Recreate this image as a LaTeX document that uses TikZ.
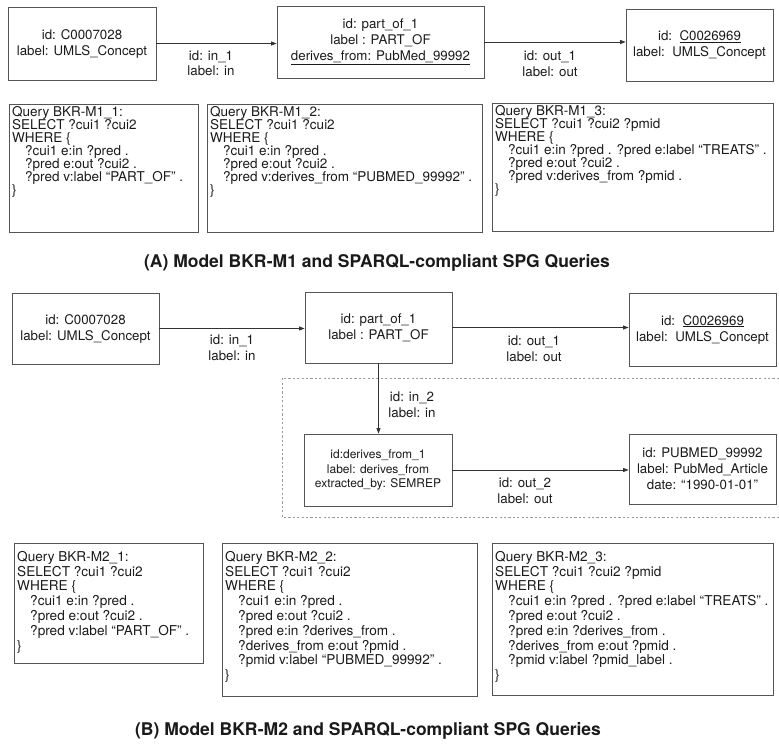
\documentclass[tikz,border=0pt]{standalone}
\usepackage{fontspec}
\setmainfont{TeX Gyre Heros}
\usetikzlibrary{arrows.meta}
\definecolor{bd}{HTML}{555555}
\definecolor{ar}{HTML}{333333}
\definecolor{dg}{HTML}{9A9A9A}
\definecolor{tx}{HTML}{1A1A1A}
\tikzset{
  ent/.style={draw=bd, line width=0.8pt, align=center, text=tx, inner sep=0pt,
    font=\fontsize{13.3}{16}\selectfont},
  entsm/.style={ent, font=\fontsize{12}{14.5}\selectfont},
  qbox/.style={draw=bd, line width=0.8pt, inner sep=0pt, anchor=north west},
  qtxtA/.style={align=left, text=tx, inner sep=0pt, anchor=north west,
    font=\fontsize{13.5}{13.1}\selectfont},
  qtxtB/.style={align=left, text=tx, inner sep=0pt, anchor=north west,
    font=\fontsize{13.6}{14.8}\selectfont},
  elab/.style={align=center, text=tx, inner sep=0pt, font=\fontsize{13.3}{15.5}\selectfont},
  arr/.style={draw=ar, line width=0.8pt, -{Triangle[length=5.5pt,width=4pt]}},
  ttl/.style={text=tx, inner sep=0pt, font=\fontsize{17.5}{20}\selectfont\bfseries},
}
\newcommand{\ind}{\hspace*{13pt}}
\begin{document}
\begin{tikzpicture}[x=1pt,y=-1pt]
\useasboundingbox (0,0) rectangle (779,747);
% ---------------- (A) ----------------
\node[ent, minimum width=148, minimum height=73] (a1) at (82,43.5) {id: C0007028\\label: UMLS\_Concept};
\node[ent, minimum width=207, minimum height=72] (a2) at (380.5,42) {id: part\_of\_1\\label : PART\_OF\\\underline{derives\_from: PubMed\_99992}};
\node[ent, minimum width=147, minimum height=72] (a3) at (699.5,45) {id:~~\underline{C0026969}\\label:~~UMLS\_Concept};
\draw[arr] (a1.east) -- (a1.east -| a2.west);
\draw[arr] (a2.east) -- (a2.east -| a3.west);
\node[elab] (la1) at (211,63) {id: in\_1\\label: in};
\node[elab] (la2) at (550,64) {id: out\_1\\label: out};

\node[qbox, minimum width=189, minimum height=128] (qa1) at (9,104) {};
\node[qtxtA] (qa1t) at ([shift={(3,2)}]qa1.north west) {Query BKR-M1\_1:\\SELECT ?cui1 ?cui2\\WHERE \{\\\ind ?cui1 e:in ?pred .\\\ind ?pred e:out ?cui2 .\\\ind ?pred v:label “PART\_OF” .\\\}};
\node[qbox, minimum width=275, minimum height=128] (qa2) at (207,104) {};
\node[qtxtA] (qa2t) at ([shift={(3,2)}]qa2.north west) {Query BKR-M1\_2:\\SELECT ?cui1 ?cui2\\WHERE \{\\\ind ?cui1 e:in ?pred .\\\ind ?pred e:out ?cui2 .\\\ind ?pred v:derives\_from “PUBMED\_99992” .\\\}};
\node[qbox, minimum width=281, minimum height=128] (qa3) at (492,103) {};
\node[qtxtA] (qa3t) at ([shift={(3,2)}]qa3.north west) {Query BKR-M1\_3:\\SELECT ?cui1 ?cui2 ?pmid\\WHERE \{\\\ind ?cui1 e:in ?pred . ?pred e:label “TREATS” .\\\ind ?pred e:out ?cui2 .\\\ind ?pred v:derives\_from ?pmid .\\\}};
\node[ttl] (ta) at (377,263) {(A) Model BKR-M1 and SPARQL-compliant SPG Queries};

% ---------------- (B) ----------------
\coordinate (d1) at (779,378);
\coordinate (d2) at (282,378);
\coordinate (d3) at (282,517);
\coordinate (d4) at (779,517);
\draw[dg, line width=0.7pt, dash pattern=on 2.2pt off 2.2pt] (d1) -- (d2) -- (d3) -- (d4);

\node[ent, minimum width=147, minimum height=71] (b1) at (85.5,328.5) {id: C0007028\\label: UMLS\_Concept};
\node[ent, minimum width=147, minimum height=71] (b2) at (378.5,327.5) {id: part\_of\_1\\label : PART\_OF};
\node[ent, minimum width=147, minimum height=73] (b3) at (702.5,329.5) {id:~~\underline{C0026969}\\label:~~UMLS\_Concept};
\node[entsm, minimum width=148, minimum height=72] (b4) at (378,470) {id:derives\_from\_1\\label: derives\_from\\extracted\_by: SEMREP};
\node[ent, minimum width=147, minimum height=70] (b5) at (702.5,469) {id: PUBMED\_99992\\label: PubMed\_Article\\date: “1990-01-01”};
\draw[arr] (b1.east) -- (b1.east -| b2.west);
\draw[arr] (b2.east) -- (b2.east -| b3.west);
\draw[arr] (b2.south) -- (b2.south |- b4.north);
\draw[arr] (b4.east) -- (b4.east -| b5.west);
\node[elab] (lb1) at (232,347.5) {id: in\_1\\label: in};
\node[elab] (lb2) at (534,348.5) {id: out\_1\\label: out};
\node[elab] (lb3) at (412,404.5) {id: in\_2\\label: in};
\node[elab] (lb4) at (525,490.5) {id: out\_2\\label: out};

\node[qbox, minimum width=189, minimum height=120] (qb1) at (14,543) {};
\node[qtxtB] (qb1t) at ([shift={(3,8)}]qb1.north west) {Query BKR-M2\_1:\\SELECT ?cui1 ?cui2\\WHERE \{\\\ind ?cui1 e:in ?pred .\\\ind ?pred e:out ?cui2 .\\\ind ?pred v:label “PART\_OF” .\\\}};
\node[qbox, minimum width=255, minimum height=153] (qb2) at (222,543) {};
\node[qtxtB] (qb2t) at ([shift={(3,8)}]qb2.north west) {Query BKR-M2\_2:\\SELECT ?cui1 ?cui2\\WHERE \{\\\ind ?cui1 e:in ?pred .\\\ind ?pred e:out ?cui2 .\\\ind ?pred e:in ?derives\_from .\\\ind ?derives\_from e:out ?pmid .\\\ind ?pmid v:label “PUBMED\_99992” .\\\}};
\node[qbox, minimum width=281, minimum height=152] (qb3) at (492,543) {};
\node[qtxtB] (qb3t) at ([shift={(3,8)}]qb3.north west) {Query BKR-M2\_3:\\SELECT ?cui1 ?cui2 ?pmid\\WHERE \{\\\ind ?cui1 e:in ?pred . ?pred e:label “TREATS” .\\\ind ?pred e:out ?cui2 .\\\ind ?pred e:in ?derives\_from .\\\ind ?derives\_from e:out ?pmid .\\\ind ?pmid v:label ?pmid\_label .\\\}};
\node[ttl] (tb) at (368,731) {(B) Model BKR-M2 and SPARQL-compliant SPG Queries};
\end{tikzpicture}
\end{document}
